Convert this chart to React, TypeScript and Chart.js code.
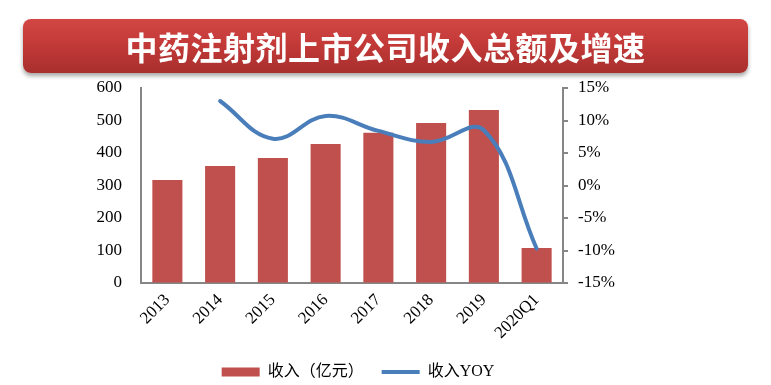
import React, { useEffect, useRef } from "react";
import { Chart, registerables } from "chart.js";

Chart.register(...registerables);

const title = "中药注射剂上市公司收入总额及增速";
const categories = ["2013", "2014", "2015", "2016", "2017", "2018", "2019", "2020Q1"];
const revenue = [317, 360, 385, 428, 462, 492, 532, 108];
const revenueYoy = [null, 13.0, 7.2, 10.7, 8.4, 6.7, 8.5, -9.7];
const seriesNames = ["收入（亿元）", "收入YOY"];
const leftRange = [0, 600, 100];
const rightRange = [-15, 15, 5];

const serif = "'Liberation Serif', 'Times New Roman', 'Noto Sans CJK SC', serif";
const axisGray = "#868686";

export default function App() {
  const canvasRef = useRef<HTMLCanvasElement | null>(null);

  useEffect(() => {
    const canvas = canvasRef.current;
    if (!canvas) return;
    const chart = new Chart(canvas, {
      type: "bar",
      data: {
        labels: categories,
        datasets: [
          {
            type: "bar",
            label: seriesNames[0],
            data: revenue,
            backgroundColor: "#C0504D",
            borderWidth: 0,
            yAxisID: "y",
            order: 2,
            barPercentage: 0.57,
            categoryPercentage: 1,
            pointStyle: "rect",
          } as any,
          {
            type: "line",
            label: seriesNames[1],
            data: revenueYoy,
            borderColor: "#4A7EBB",
            backgroundColor: "#4A7EBB",
            borderWidth: 4,
            tension: 0.4,
            pointRadius: 0,
            spanGaps: true,
            yAxisID: "y1",
            order: 1,
            pointStyle: "line",
            borderCapStyle: "round",
          } as any,
        ],
      },
      options: {
        animation: false,
        responsive: false,
        maintainAspectRatio: false,
        layout: { padding: { left: 0, right: 55, top: 88, bottom: 0 } },
        plugins: {
          tooltip: { enabled: false },
          title: { display: false },
          legend: {
            position: "bottom",
            reverse: true,
            labels: {
              usePointStyle: true,
              pointStyleWidth: 38,
              boxHeight: 9,
              padding: 18,
              color: "#000",
              font: { family: serif, size: 16 },
            },
          },
        },
        scales: {
          x: {
            afterFit: (s: any) => {
              s.height = 63;
            },
            grid: { display: true, drawOnChartArea: false, drawTicks: false },
            border: { display: true, color: axisGray, width: 2 },
            ticks: {
              minRotation: 45,
              maxRotation: 45,
              padding: 7,
              color: "#000",
              font: { family: serif, size: 17 },
            },
          },
          y: {
            position: "left",
            min: leftRange[0],
            max: leftRange[1],
            afterFit: (s: any) => {
              s.width = 141;
            },
            grid: { display: true, drawOnChartArea: false, drawTicks: false },
            border: { display: true, color: axisGray, width: 2 },
            ticks: {
              stepSize: leftRange[2],
              padding: 19,
              color: "#000",
              font: { family: serif, size: 17 },
            },
          },
          y1: {
            position: "right",
            min: rightRange[0],
            max: rightRange[1],
            afterFit: (s: any) => {
              s.width = 153;
            },
            grid: {
              display: true,
              drawOnChartArea: false,
              drawTicks: true,
              tickLength: 5,
              color: axisGray,
              lineWidth: 2,
            },
            border: { display: true, color: axisGray, width: 2 },
            ticks: {
              stepSize: rightRange[2],
              padding: 10,
              color: "#000",
              font: { family: serif, size: 17 },
              callback: (v: any) => `${v}%`,
            },
          },
        },
      },
    });
    return () => chart.destroy();
  }, []);

  return (
    <div
      style={{
        position: "absolute",
        left: 0,
        top: 0,
        width: 771,
        height: 385,
        overflow: "hidden",
        background: "#fff",
      }}
    >
      <canvas
        ref={canvasRef}
        width={771}
        height={390}
        style={{ position: "absolute", left: 0, top: 0, width: 771, height: 390 }}
      />
      <div
        style={{
          position: "absolute",
          left: 23,
          top: 19,
          width: 725,
          height: 54,
          borderRadius: 8,
          background: "linear-gradient(to bottom, #d24744 0%, #c33a38 45%, #a82f2e 100%)",
          boxShadow: "0 3px 4px rgba(0,0,0,0.35)",
          display: "flex",
          alignItems: "center",
          justifyContent: "center",
          color: "#fff",
          fontFamily: "'Noto Sans CJK SC', sans-serif",
          fontWeight: 700,
          fontSize: 32,
          letterSpacing: 0.5,
          lineHeight: 1,
        }}
      >
        {title}
      </div>
    </div>
  );
}
